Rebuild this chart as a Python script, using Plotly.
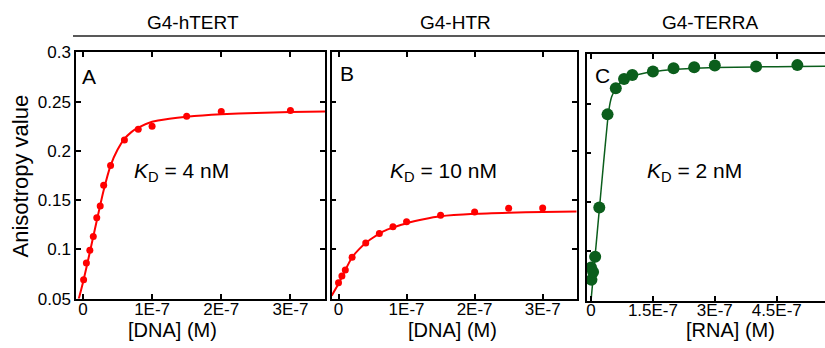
import plotly.graph_objects as go

# ---------------- data ----------------
# Panel A: G4-hTERT
A_x = [1e-9, 5e-9, 1e-8, 1.5e-8, 2e-8, 2.5e-8, 3e-8, 4e-8, 6e-8, 8e-8, 1e-7, 1.5e-7, 2e-7, 3e-7]
A_y = [0.069, 0.086, 0.099, 0.113, 0.132, 0.144, 0.165, 0.185, 0.211, 0.222, 0.225, 0.235, 0.240, 0.241]
A_fit_x = [-1e-8, 0, 1e-8, 2e-8, 3e-8, 4e-8, 5e-8, 6e-8, 7e-8, 8e-8, 1e-7, 1.25e-7, 1.5e-7, 2e-7, 2.5e-7, 3e-7, 3.5e-7]
A_fit_y = [0.039, 0.066, 0.097, 0.129, 0.160, 0.185, 0.201, 0.212, 0.219, 0.2235, 0.2295, 0.2325, 0.2345, 0.237, 0.2385, 0.2393, 0.2398]

# Panel B: G4-HTR
B_x = [0, 5e-9, 1e-8, 2e-8, 4e-8, 6e-8, 8e-8, 1e-7, 1.5e-7, 2e-7, 2.5e-7, 3e-7]
B_y = [0.066, 0.073, 0.079, 0.092, 0.1065, 0.116, 0.123, 0.128, 0.1347, 0.138, 0.1417, 0.142]
B_fit_x = [-1e-8, 0, 1e-8, 2e-8, 3e-8, 4e-8, 5e-8, 6e-8, 7e-8, 8e-8, 1e-7, 1.25e-7, 1.5e-7, 2e-7, 2.5e-7, 3e-7, 3.5e-7]
B_fit_y = [0.053, 0.065, 0.079, 0.092, 0.100, 0.1065, 0.1115, 0.116, 0.1195, 0.122, 0.1265, 0.1305, 0.1335, 0.136, 0.1372, 0.138, 0.1385]

# Panel C: G4-TERRA
C_x = [0, 1e-9, 5e-9, 1e-8, 2e-8, 4e-8, 6e-8, 8e-8, 1e-7, 1.5e-7, 2e-7, 2.5e-7, 3e-7, 4e-7, 5e-7]
C_y = [0.0835, 0.071, 0.079, 0.0945, 0.1445, 0.239, 0.2655, 0.275, 0.279, 0.2825, 0.2858, 0.2868, 0.2885, 0.2875, 0.289]
C_fit_x = [0, 1e-8, 2e-8, 3e-8, 4e-8, 4.5e-8, 5e-8, 6e-8, 7e-8, 8e-8, 1e-7, 1.5e-7, 2e-7, 3e-7, 4e-7, 5e-7, 5.7e-7]
C_fit_y = [0.05, 0.096, 0.142, 0.188, 0.232, 0.248, 0.257, 0.2655, 0.271, 0.2745, 0.278, 0.2822, 0.2845, 0.2865, 0.2872, 0.2876, 0.2878]

y_tickvals = [0.05, 0.1, 0.15, 0.2, 0.25, 0.3]
y_ticktext = ["0.05", "0.1", "0.15", "0.2", "0.25", "0.3"]
dna_tickvals = [0, 1e-7, 2e-7, 3e-7]
dna_ticktext = ["0", "1E-7", "2E-7", "3E-7"]
rna_tickvals = [0, 1.5e-7, 3e-7, 4.5e-7, 6e-7]
rna_ticktext = ["0", "1.5E-7", "3E-7", "4.5E-7", "6E-7"]

titles = ["G4-hTERT", "G4-HTR", "G4-TERRA"]
panel_letters = ["A", "B", "C"]
kd_texts = ["<i>K</i><sub>D</sub> = 4 nM", "<i>K</i><sub>D</sub> = 10 nM", "<i>K</i><sub>D</sub> = 2 nM"]
x_titles = ["[DNA] (M)", "[DNA] (M)", "[RNA] (M)"]

# ---------------- layout helpers ----------------
W, H = 825, 348
V_SCALE, V_OFF = 0.952, 8.4   # observed vertical mapping of the photographed page

def px(x):
    return x / W
def py(y):
    yf = (y - V_OFF) / V_SCALE
    return 1 - yf / H

RED = "#ff0000"
GREEN = "#0b5e1c"
FONT = "Liberation Sans, Arial, sans-serif"

fig = go.Figure()

fig.add_trace(go.Scatter(x=A_fit_x, y=A_fit_y, mode="lines", line=dict(color=RED, width=2, shape="spline", smoothing=0.6),
                         xaxis="x", yaxis="y", showlegend=False))
fig.add_trace(go.Scatter(x=A_x, y=A_y, mode="markers", marker=dict(color=RED, size=7),
                         xaxis="x", yaxis="y", showlegend=False))
fig.add_trace(go.Scatter(x=B_fit_x, y=B_fit_y, mode="lines", line=dict(color=RED, width=2, shape="spline", smoothing=0.6),
                         xaxis="x2", yaxis="y2", showlegend=False))
fig.add_trace(go.Scatter(x=B_x, y=B_y, mode="markers", marker=dict(color=RED, size=7),
                         xaxis="x2", yaxis="y2", showlegend=False))
fig.add_trace(go.Scatter(x=C_fit_x, y=C_fit_y, mode="lines", line=dict(color=GREEN, width=1.5, shape="spline", smoothing=0.5),
                         xaxis="x3", yaxis="y3", showlegend=False))
fig.add_trace(go.Scatter(x=C_x, y=C_y, mode="markers", marker=dict(color=GREEN, size=12),
                         xaxis="x3", yaxis="y3", showlegend=False))

axis_common = dict(showline=True, linecolor="black", linewidth=1.5, ticks="inside", ticklen=5,
                   tickwidth=1.5, tickcolor="black", showgrid=False, zeroline=False,
                   tickfont=dict(family=FONT, size=17, color="black"))

yA = [py(300), py(52)]
yC = [py(302), py(54)]

fig.update_layout(
    width=W, height=H, margin=dict(l=0, r=0, t=0, b=0),
    paper_bgcolor="white", plot_bgcolor="white",
    xaxis=dict(domain=[px(76), px(325)], range=[-1.0e-8, 3.5e-7], anchor="y", mirror="allticks",
               tickvals=dna_tickvals, ticktext=dna_ticktext, ticklabelstandoff=-6, **axis_common),
    yaxis=dict(domain=yA, range=[0.05, 0.3], anchor="x", mirror="allticks",
               tickvals=y_tickvals, ticktext=y_ticktext, **axis_common),
    xaxis2=dict(domain=[px(331.7), px(576.7)], range=[-1.0e-8, 3.5e-7], anchor="y2", mirror="allticks",
                tickvals=dna_tickvals, ticktext=dna_ticktext, ticklabelstandoff=-6, **axis_common),
    yaxis2=dict(domain=yA, range=[0.05, 0.3], anchor="x2", mirror="allticks", showticklabels=False,
                tickvals=y_tickvals, **axis_common),
    xaxis3=dict(domain=[px(586.7), 1.0], range=[-1.05e-8, 5.67e-7], anchor="y3", mirror="allticks",
                tickvals=rna_tickvals, ticktext=rna_ticktext, ticklabelstandoff=-7, **axis_common),
    yaxis3=dict(domain=yC, range=[0.05, 0.3], anchor="x3", mirror=False, showticklabels=False,
                tickvals=y_tickvals, **axis_common),
)

# separator line under titles
fig.add_shape(type="line", xref="paper", yref="paper", x0=px(73), x1=1.0, y0=py(35.5), y1=py(35.5),
              line=dict(color="#222222", width=1.5))

title_x = [193, 455, 710]
letter_pos = [(89, 76), (347, 73), (602, 75)]
kd_x = [181, 443, 694]
xt_x = [172, 452, 730]

def label(text, x, y, size, angle=0):
    fig.add_annotation(text=text, xref="paper", yref="paper", x=px(x), y=py(y),
                       xanchor="center", yanchor="middle", textangle=angle,
                       showarrow=False, font=dict(family=FONT, size=size, color="black"))

for i in range(3):
    label(titles[i], title_x[i], 22, 19)
    label(panel_letters[i], letter_pos[i][0], letter_pos[i][1], 21)
    label(kd_texts[i], kd_x[i], 173, 21)
    label(x_titles[i], xt_x[i], 332, 20)

label("Anisotropy value", 20, 177, 22, angle=-90)

page_fix = (
    "var s=document.createElement('style');"
    "s.innerHTML='html,body{margin:0;padding:0;overflow:hidden;height:348px;width:825px;}';"
    "document.head.appendChild(s);"
)
fig.write_html("out.html", config={"displayModeBar": False}, post_script=page_fix)
